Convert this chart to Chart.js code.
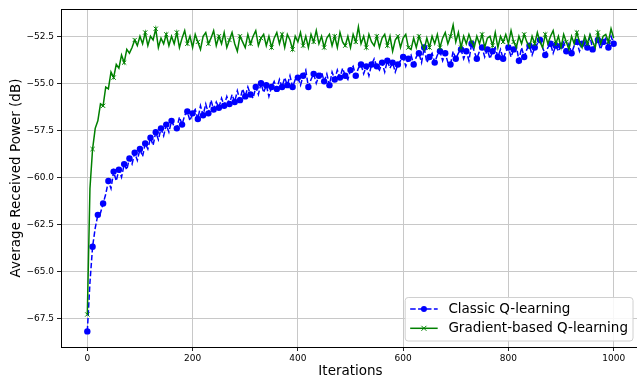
<!DOCTYPE html>
<html><head><meta charset="utf-8">
<script src="https://cdn.jsdelivr.net/npm/chart.js@4.4.1/dist/chart.umd.min.js"></script>
<style>
html,body{margin:0;padding:0;overflow:hidden;background:#fff}
#wrap{position:relative;width:645px;height:382px}
</style></head>
<body><div id="wrap"><canvas id="c" width="645" height="382"></canvas></div>
<script>
// iteration step between stored samples
const ITER_STEP = 5;

const seriesNames = ['Classic Q-learning', 'Gradient-based Q-learning'];

const classicQ = [
 -68.2,-65.6,-63.7,-62.7,-62.0,-61.9,-61.4,-60.9,-60.2,-60.6,
 -59.7,-60.2,-59.6,-60.0,-59.3,-59.6,-59.0,-59.3,-58.7,-59.1,
 -58.5,-58.9,-58.2,-58.5,-57.9,-58.3,-57.6,-58.0,-57.4,-57.8,
 -57.2,-57.6,-57.0,-57.3,-57.4,-56.8,-57.2,-56.7,-56.5,-57.0,
 -56.6,-56.4,-56.9,-56.2,-56.7,-56.1,-56.6,-55.9,-56.4,-56.0,
 -56.3,-55.8,-56.2,-55.7,-56.1,-55.6,-56.0,-55.4,-55.9,-55.3,
 -55.7,-55.2,-55.6,-55.8,-55.2,-55.6,-55.0,-55.5,-55.1,-55.7,
 -55.2,-54.9,-55.3,-54.8,-55.2,-54.7,-55.1,-54.6,-55.2,-54.8,
 -54.7,-55.1,-54.6,-54.3,-55.2,-54.8,-54.5,-55.0,-54.6,-54.4,
 -54.9,-54.5,-55.1,-54.4,-54.8,-54.3,-54.7,-54.2,-54.6,-54.8,
 -54.3,-54.1,-54.6,-54.2,-54.0,-54.5,-54.1,-54.6,-54.0,-53.7,
 -54.1,-54.3,-53.9,-54.4,-53.8,-54.2,-53.9,-54.4,-54.0,-53.8,
 -53.6,-54.1,-53.7,-53.5,-54.0,-53.6,-53.4,-53.9,-53.1,-53.9,
 -53.6,-53.4,-53.9,-53.5,-53.3,-53.8,-53.4,-53.9,-54.0,-53.3,
 -53.7,-53.4,-53.2,-53.7,-53.3,-53.8,-52.9,-53.3,-53.7,-53.3,
 -53.1,-53.6,-53.2,-53.7,-53.3,-53.1,-53.6,-53.2,-53.7,-53.3,
 -53.1,-53.6,-53.2,-53.0,-53.8,-53.1,-53.6,-53.2,-53.0,-53.5,
 -53.1,-52.9,-52.7,-53.1,-53.5,-53.1,-52.9,-53.4,-53.0,-53.3,
 -53.0,-52.8,-53.3,-52.9,-53.4,-53.0,-52.8,-53.3,-52.9,-52.7,
 -53.1,-52.5,-53.2,-52.9,-52.7,-53.2,-52.8,-52.6,-53.1,-52.5,-52.9
];

const gradientQ = [
 -67.3,-60.6,-58.5,-57.4,-57.0,-56.1,-56.2,-55.2,-55.3,-54.4,
 -54.7,-54.0,-54.2,-53.5,-53.9,-53.2,-53.4,-53.1,-52.7,-53.0,
 -52.5,-52.9,-52.3,-53.0,-52.5,-52.7,-52.1,-53.1,-52.6,-52.9,
 -52.4,-53.0,-52.5,-52.9,-52.3,-53.1,-52.6,-52.2,-52.9,-52.5,
 -53.1,-52.4,-52.8,-53.2,-52.5,-52.3,-52.9,-52.6,-52.2,-53.0,
 -52.5,-52.9,-52.3,-53.1,-52.7,-52.3,-52.9,-53.3,-52.5,-52.8,
 -53.1,-52.4,-52.9,-52.5,-52.2,-53.0,-52.6,-52.4,-53.0,-52.5,
 -53.1,-52.6,-52.3,-52.9,-52.4,-53.1,-52.4,-52.7,-53.2,-52.5,
 -52.8,-52.3,-53.0,-52.5,-53.1,-52.4,-52.8,-52.2,-52.9,-52.5,
 -53.1,-52.6,-52.4,-53.0,-52.5,-53.1,-52.3,-52.8,-53.0,-52.5,
 -53.1,-52.4,-52.8,-52.0,-52.9,-52.5,-53.1,-52.4,-52.8,-53.0,
 -52.5,-53.1,-52.6,-52.4,-53.0,-52.5,-53.3,-52.7,-52.5,-53.1,
 -52.6,-52.4,-53.1,-53.2,-52.6,-53.1,-52.5,-52.9,-53.2,-52.6,
 -53.1,-52.5,-52.9,-52.4,-53.1,-52.6,-52.3,-52.9,-52.5,-51.9,
 -52.8,-52.3,-53.1,-52.5,-52.9,-52.4,-52.8,-53.1,-52.5,-52.9,
 -52.4,-53.1,-52.6,-52.5,-53.0,-52.3,-53.1,-52.5,-52.8,-52.4,
 -52.9,-52.2,-52.8,-53.1,-52.5,-52.9,-52.4,-52.8,-53.1,-52.5,
 -52.9,-52.3,-52.8,-53.1,-52.4,-52.9,-52.5,-52.2,-52.9,-52.5,
 -53.1,-52.4,-52.8,-53.2,-52.5,-52.9,-52.3,-52.8,-53.1,-52.5,
 -52.9,-52.4,-52.8,-53.1,-52.3,-52.9,-52.5,-52.4,-52.8,-52.1,-52.6
];

const xTickValues = [0, 200, 400, 600, 800, 1000];
const yTickValues = [-67.5, -65.0, -62.5, -60.0, -57.5, -55.0, -52.5];

const toPoints = arr => arr.map((v, i) => ({ x: i * ITER_STEP, y: v }));

const FONT = '"DejaVu Sans", "Liberation Sans", sans-serif';
const BLUE = '#0000ff';
const GREEN = '#008000';

function fmtY(v) {
  return v.toFixed(1).replace('-', '\u2212');
}

const framePlugin = {
  id: 'frame',
  afterDatasetsDraw(chart) {
    const a = chart.chartArea, ctx = chart.ctx;
    ctx.save();
    ctx.strokeStyle = '#000';
    ctx.lineWidth = 1;
    ctx.beginPath();
    ctx.moveTo(a.left, a.top + 0.5);
    ctx.lineTo(a.right, a.top + 0.5);
    ctx.stroke();
    ctx.restore();
  }
};

const legendPlugin = {
  id: 'innerLegend',
  afterDraw(chart) {
    const a = chart.chartArea, ctx = chart.ctx;
    ctx.save();
    const fs = 13.5;
    ctx.font = fs + 'px ' + FONT;
    const tw = Math.max(...seriesNames.map(t => ctx.measureText(t).width));
    const handle = 27.5, pad = 5, gap = 10.7;
    const right = a.right - 7, bottom = a.bottom - 6;
    const w = pad + handle + gap + tw + pad;
    const h = 43.5;
    const left = right - w, top = bottom - h;
    ctx.beginPath();
    const r = 3;
    ctx.moveTo(left + r, top);
    ctx.lineTo(right - r, top); ctx.quadraticCurveTo(right, top, right, top + r);
    ctx.lineTo(right, bottom - r); ctx.quadraticCurveTo(right, bottom, right - r, bottom);
    ctx.lineTo(left + r, bottom); ctx.quadraticCurveTo(left, bottom, left, bottom - r);
    ctx.lineTo(left, top + r); ctx.quadraticCurveTo(left, top, left + r, top);
    ctx.closePath();
    ctx.fillStyle = 'rgba(255,255,255,0.85)';
    ctx.fill();
    ctx.strokeStyle = '#d0d0d0';
    ctx.lineWidth = 1;
    ctx.stroke();

    const rows = [top + 11.5, top + 30.8];
    const hx0 = left + pad, hx1 = hx0 + handle, hc = (hx0 + hx1) / 2;
    ctx.strokeStyle = BLUE; ctx.lineWidth = 1.5;
    ctx.setLineDash([5.5, 2.4]);
    ctx.beginPath(); ctx.moveTo(hx0, rows[0]); ctx.lineTo(hx1, rows[0]); ctx.stroke();
    ctx.setLineDash([]);
    ctx.fillStyle = BLUE;
    ctx.beginPath(); ctx.arc(hc, rows[0], 3, 0, Math.PI * 2); ctx.fill();
    ctx.strokeStyle = GREEN; ctx.lineWidth = 1.5;
    ctx.beginPath(); ctx.moveTo(hx0, rows[1]); ctx.lineTo(hx1, rows[1]); ctx.stroke();
    ctx.lineWidth = 1;
    ctx.beginPath();
    ctx.moveTo(hc - 2.5, rows[1] - 2.5); ctx.lineTo(hc + 2.5, rows[1] + 2.5);
    ctx.moveTo(hc - 2.5, rows[1] + 2.5); ctx.lineTo(hc + 2.5, rows[1] - 2.5);
    ctx.stroke();
    ctx.fillStyle = '#000';
    ctx.textBaseline = 'middle';
    ctx.textAlign = 'left';
    ctx.fillText(seriesNames[0], hx1 + gap, rows[0] + 0.5);
    ctx.fillText(seriesNames[1], hx1 + gap, rows[1] + 0.5);
    ctx.restore();
  }
};

new Chart(document.getElementById('c'), {
  type: 'line',
  data: {
    datasets: [
      {
        label: seriesNames[1],
        data: toPoints(gradientQ),
        borderColor: GREEN,
        backgroundColor: GREEN,
        borderWidth: 1.5,
        tension: 0,
        pointStyle: 'crossRot',
        pointRadius: c => (c.dataIndex === 0 || c.dataIndex % 4 === 2 ? 3 : 0),
        pointBorderWidth: 1,
        pointBorderColor: GREEN,
        order: 0
      },
      {
        label: seriesNames[0],
        data: toPoints(classicQ),
        borderColor: BLUE,
        backgroundColor: BLUE,
        borderWidth: 1.5,
        borderDash: [5.5, 2.4],
        tension: 0,
        pointStyle: 'circle',
        pointRadius: c => (c.dataIndex % 2 === 0 ? 3.2 : 0),
        pointBorderWidth: 0,
        pointBackgroundColor: BLUE,
        order: 1
      }
    ]
  },
  options: {
    responsive: false,
    animation: false,
    devicePixelRatio: 1,
    layout: { padding: { top: 9, right: 2.6, left: 0, bottom: 0 } },
    plugins: { legend: { display: false }, tooltip: { enabled: false } },
    scales: {
      x: {
        type: 'linear',
        min: -50, max: 1050,
        afterBuildTicks: s => { s.ticks = xTickValues.map(v => ({ value: v })); },
        afterFit: s => { s.height = 35; },
        ticks: {
          font: { family: FONT, size: 9 }, color: '#000', padding: 2,
          maxRotation: 0, autoSkip: false, callback: v => String(v)
        },
        grid: { color: '#c8c8c8', lineWidth: 1, tickColor: '#222', tickLength: 4, drawTicks: true },
        border: { color: '#000', width: 1 },
        title: { display: true, text: 'Iterations', font: { family: FONT, size: 13.5 }, color: '#000', padding: { top: 0, bottom: 2 } }
      },
      y: {
        type: 'linear',
        min: -69.03, max: -51.05,
        afterBuildTicks: s => { s.ticks = yTickValues.map(v => ({ value: v })); },
        afterFit: s => { s.width = 61; },
        ticks: {
          font: { family: FONT, size: 9 }, color: '#000', padding: 3,
          autoSkip: false, callback: v => fmtY(v)
        },
        grid: { color: '#c8c8c8', lineWidth: 1, tickColor: '#222', tickLength: 4, drawTicks: true },
        border: { color: '#000', width: 1 },
        title: { display: true, text: 'Average Received Power (dB)', font: { family: FONT, size: 13.5 }, color: '#000', padding: { top: 8.5, bottom: 0 } }
      }
    }
  },
  plugins: [framePlugin, legendPlugin]
});
</script>
</body></html>
